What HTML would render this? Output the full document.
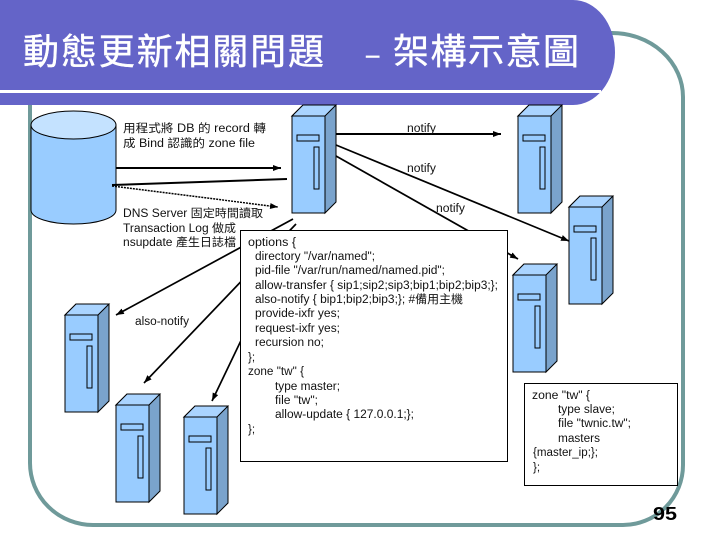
<!DOCTYPE html>
<html><head><meta charset="utf-8"><style>
html,body{margin:0;padding:0;background:#fff;width:720px;height:540px;overflow:hidden}
svg{display:block}
text{font-family:"Liberation Sans","Noto Sans CJK TC",sans-serif;font-size:11.5px;fill:#111}
.t{font-size:36px;fill:#fff;stroke:#fff;stroke-width:.4}
.srv{fill:#99ccff;stroke:#000;stroke-width:1}
</style></head><body>
<svg width="720" height="540" viewBox="0 0 720 540" xmlns="http://www.w3.org/2000/svg">
<defs>
<marker id="a" markerWidth="9" markerHeight="7" refX="8" refY="3" orient="auto" markerUnits="userSpaceOnUse"><path d="M0 0L8 3L0 6Z" fill="#000"/></marker>
<g id="s">
<path d="M0 0L11 -11H44V86L33 97V0Z" fill="#7aa3cc" stroke="#000"/>
<path d="M0 0L11 -11H44L33 0Z" fill="#aad4ff" stroke="#000"/>
<rect x="0" y="0" width="33" height="97" class="srv"/>
<rect x="5" y="19" width="22" height="6" fill="#99ccff" stroke="#000"/>
<rect x="22" y="31" width="5" height="42" fill="#99ccff" stroke="#000"/>
</g>
</defs>
<path d="M30 105V463A63 62 0 0 0 93 525H623A60 60 0 0 0 683 465V97A71 64 0 0 0 612 33H590" fill="none" stroke="#6f9a9a" stroke-width="4"/>
<path d="M0 0H573A42 52.500 0 0 1 573 105H0Z" fill="#6464c8"/>
<rect x="0" y="90" width="601" height="3" fill="#fff"/>
<text class="t" x="23" y="64" textLength="301" lengthAdjust="spacing">動態更新相關問題</text>
<text class="t" x="366" y="63" style="font-size:24px">–</text>
<text class="t" x="393" y="64" textLength="186" lengthAdjust="spacing">架構示意圖</text>

<path d="M31 125V210C31 218 50 224 73.500 224C97 224 116 218 116 210V125Z" fill="#99ccff" stroke="#000" stroke-width="1"/>
<ellipse cx="73.500" cy="125" rx="42.500" ry="14" fill="#c4e2ff" stroke="#000" stroke-width="1"/>

<g fill="none" stroke="#000">
<path d="M116 168H281" stroke-width="2" marker-end="url(#a)"/>
<path d="M287 179L112 185" stroke-width="2"/>
<path d="M112 186L278 207" stroke-width="1.500" stroke-dasharray="2 1" marker-end="url(#a)"/>
<path d="M336 134H501" stroke-width="2" marker-end="url(#a)"/>
<path d="M336 145L569 241" stroke-width="1.700" marker-end="url(#a)"/>
<path d="M336 156L518 259" stroke-width="1.700" marker-end="url(#a)"/>
<path d="M293 219L116 315" stroke-width="1.700" marker-end="url(#a)"/>
<path d="M296 224L144 383" stroke-width="1.700" marker-end="url(#a)"/>
<path d="M270 280L212 401" stroke-width="1.700" marker-end="url(#a)"/>
</g>

<use href="#s" x="292" y="116"/>
<use href="#s" x="518" y="116"/>
<use href="#s" x="569" y="207"/>
<use href="#s" x="513" y="275"/>
<use href="#s" x="65" y="315"/>
<use href="#s" x="116" y="405"/>
<use href="#s" x="184" y="417"/>

<g>
<text x="123" y="132" textLength="143" lengthAdjust="spacingAndGlyphs">用程式將  DB 的 record 轉</text>
<text x="123" y="147" textLength="132" lengthAdjust="spacingAndGlyphs">成 Bind 認識的  zone file</text>
<text x="123" y="217" textLength="140" lengthAdjust="spacingAndGlyphs">DNS Server 固定時間讀取</text>
<text x="123" y="232" textLength="113" lengthAdjust="spacingAndGlyphs">Transaction Log 做成</text>
<text x="123" y="246" textLength="113" lengthAdjust="spacingAndGlyphs">nsupdate 產生日誌檔</text>
<text x="407" y="132" textLength="29" lengthAdjust="spacingAndGlyphs">notify</text>
<text x="407" y="172" textLength="29" lengthAdjust="spacingAndGlyphs">notify</text>
<text x="436" y="212" textLength="29" lengthAdjust="spacingAndGlyphs">notify</text>
<text x="135" y="325" textLength="54" lengthAdjust="spacingAndGlyphs">also-notify</text>

<rect x="240.500" y="230.500" width="267" height="231" fill="#fff" stroke="#000"/>
<text x="248" y="246" textLength="48" lengthAdjust="spacingAndGlyphs">options {</text>
<text x="255" y="260" textLength="120" lengthAdjust="spacingAndGlyphs">directory "/var/named";</text>
<text x="255" y="274" textLength="190" lengthAdjust="spacingAndGlyphs">pid-file "/var/run/named/named.pid";</text>
<text x="255" y="289" textLength="243" lengthAdjust="spacingAndGlyphs">allow-transfer { sip1;sip2;sip3;bip1;bip2;bip3;};</text>
<text x="255" y="303" textLength="208" lengthAdjust="spacingAndGlyphs">also-notify { bip1;bip2;bip3;}; #備用主機</text>
<text x="255" y="317" textLength="85" lengthAdjust="spacingAndGlyphs">provide-ixfr yes;</text>
<text x="255" y="332" textLength="85" lengthAdjust="spacingAndGlyphs">request-ixfr yes;</text>
<text x="255" y="346" textLength="69" lengthAdjust="spacingAndGlyphs">recursion no;</text>
<text x="248" y="361">};</text>
<text x="248" y="375" textLength="56" lengthAdjust="spacingAndGlyphs">zone "tw" {</text>
<text x="275" y="390" textLength="65" lengthAdjust="spacingAndGlyphs">type master;</text>
<text x="275" y="404" textLength="43" lengthAdjust="spacingAndGlyphs">file "tw";</text>
<text x="275" y="418" textLength="139" lengthAdjust="spacingAndGlyphs">allow-update { 127.0.0.1;};</text>
<text x="248" y="433">};</text>

<rect x="524.500" y="383.500" width="153" height="102" fill="#fff" stroke="#000"/>
<text x="532" y="399" textLength="58" lengthAdjust="spacingAndGlyphs">zone "tw" {</text>
<text x="558" y="413" textLength="57" lengthAdjust="spacingAndGlyphs">type slave;</text>
<text x="558" y="427" textLength="73" lengthAdjust="spacingAndGlyphs">file "twnic.tw";</text>
<text x="558" y="442" textLength="42" lengthAdjust="spacingAndGlyphs">masters</text>
<text x="533" y="456" textLength="65" lengthAdjust="spacingAndGlyphs">{master_ip;};</text>
<text x="533" y="471">};</text>
</g>

<text x="653" y="520" style="font-size:18px;font-weight:bold;fill:#000" textLength="24" lengthAdjust="spacingAndGlyphs">95</text>
</svg>
</body></html>
